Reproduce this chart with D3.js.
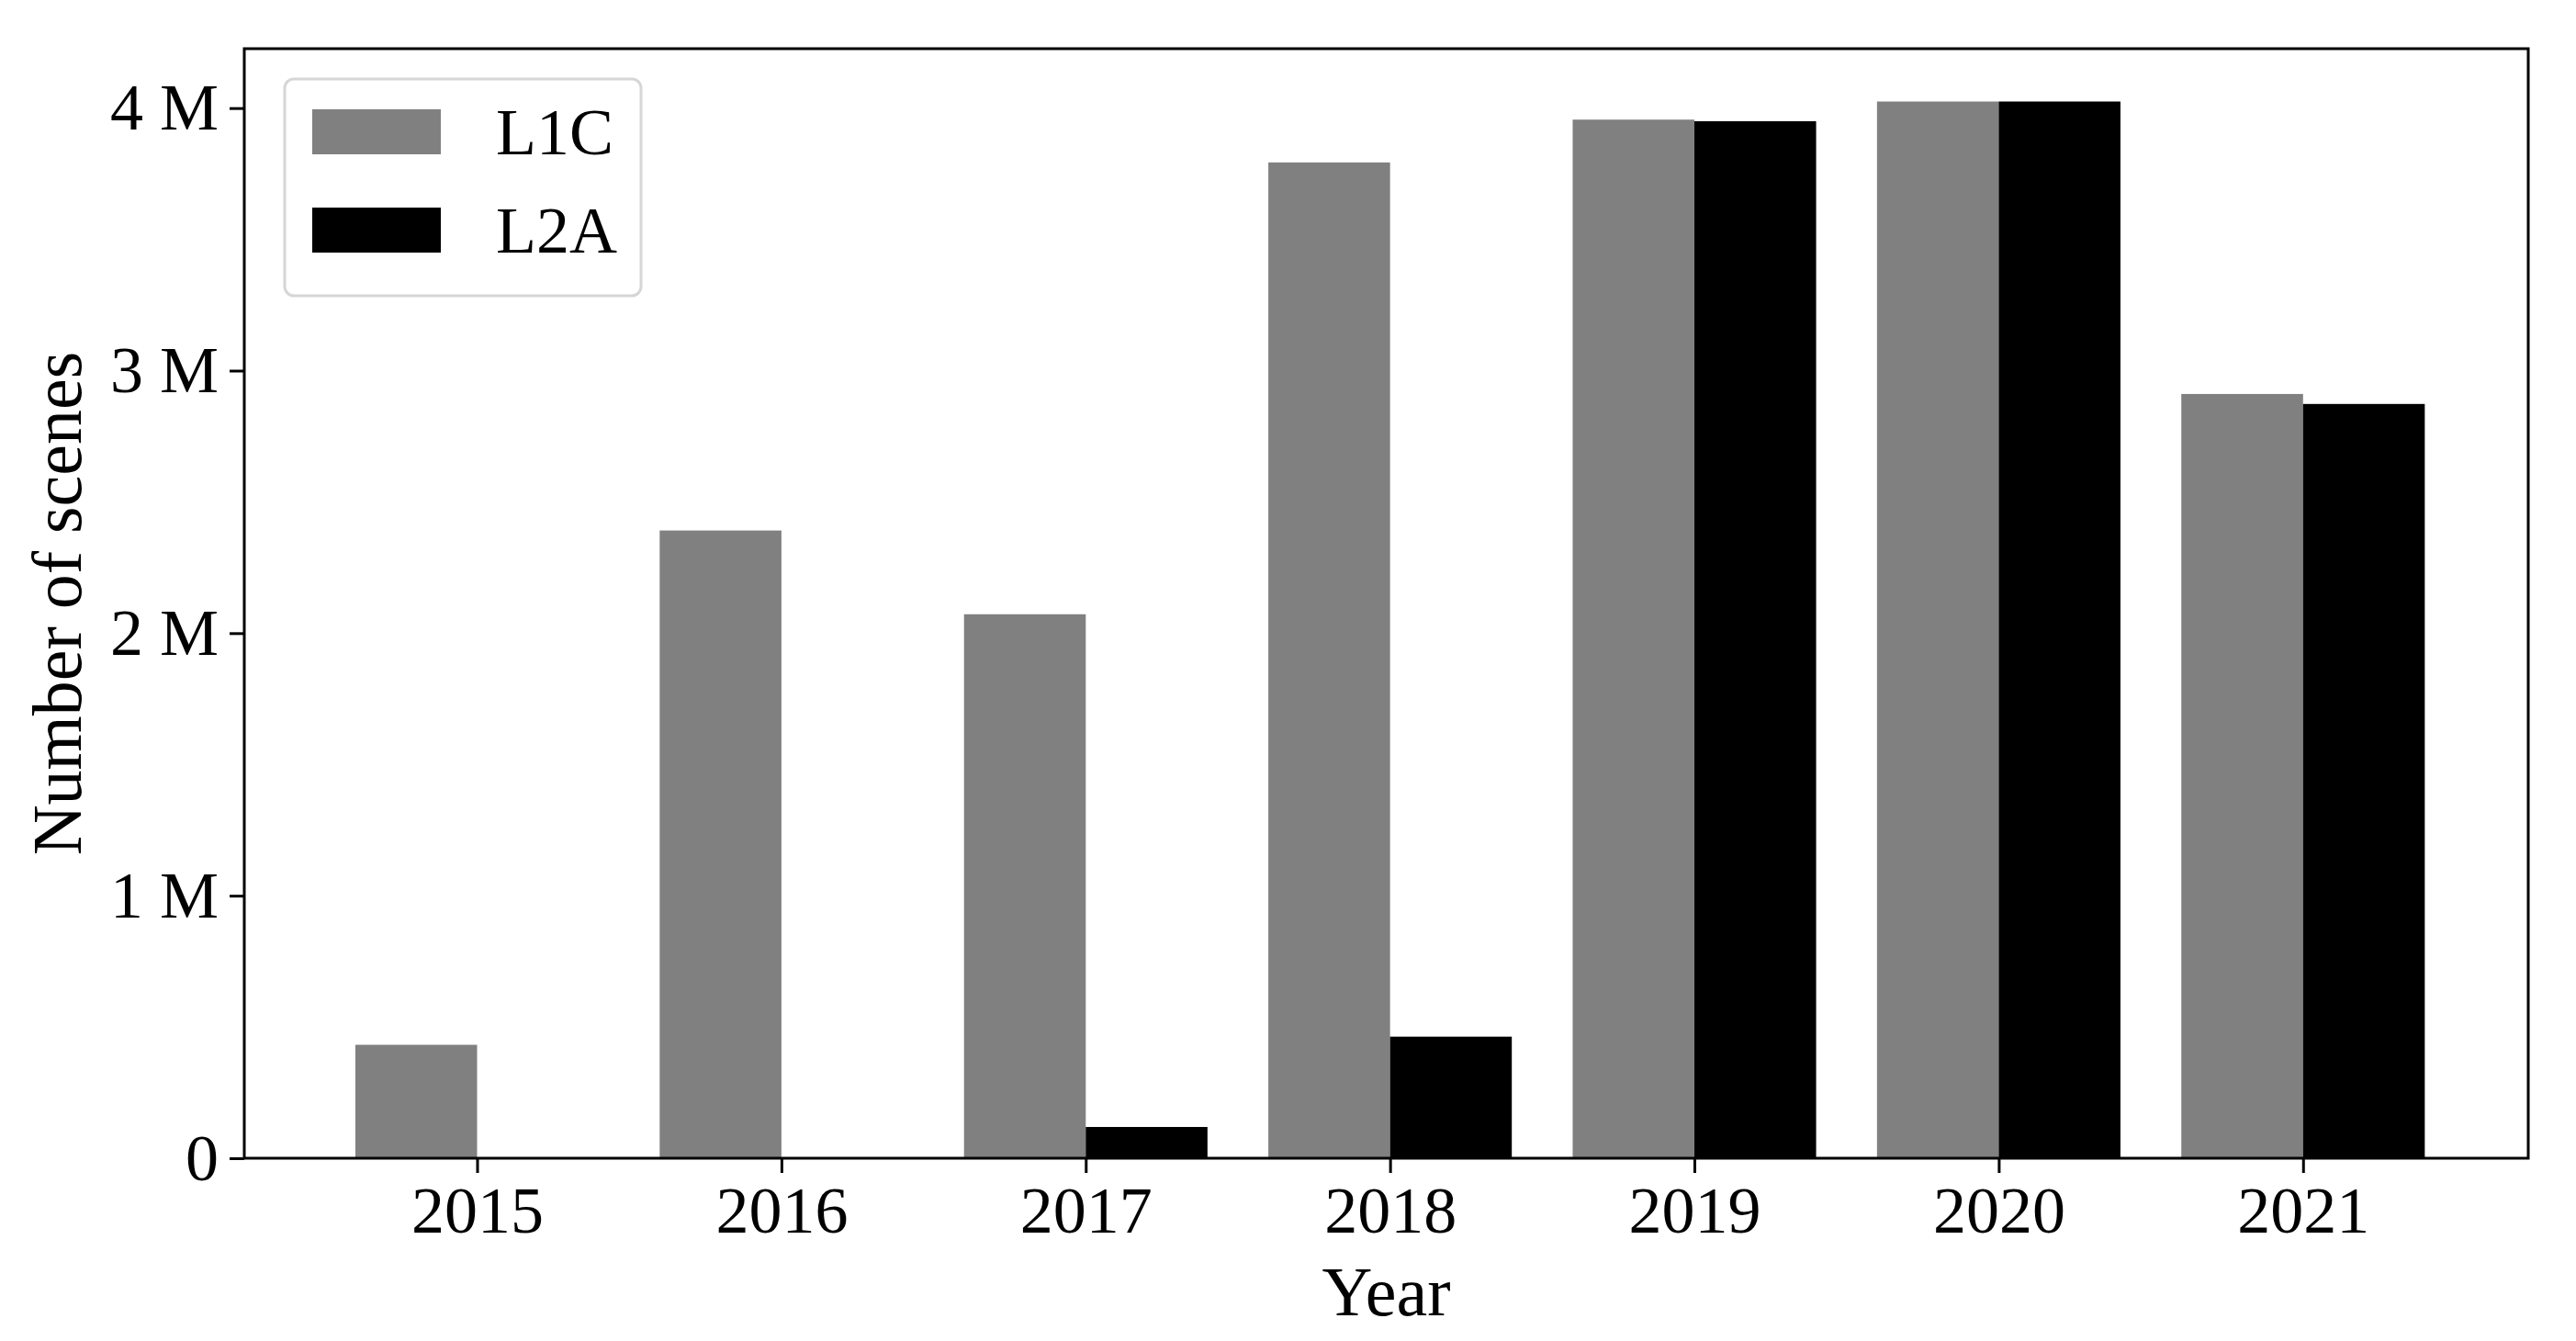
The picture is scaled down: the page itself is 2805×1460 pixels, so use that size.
<!DOCTYPE html>
<html>
<head>
<meta charset="utf-8">
<script src="https://cdn.jsdelivr.net/npm/d3@7"></script>
<style>
  html, body { margin: 0; padding: 0; background: #fff; }
  svg { display: block; }
</style>
</head>
<body>
<svg id="chart" width="2805" height="1460"></svg>
<script>
const years = ["2015", "2016", "2017", "2018", "2019", "2020", "2021"];
const l1c = [432000, 2391000, 2072000, 3793000, 3956000, 4025000, 2911000];
const l2a = [0, 0, 119000, 463000, 3950000, 4025000, 2873000];
const seriesNames = ["L1C", "L2A"];
const seriesColors = ["#808080", "#000000"];
const yTicks = [0, 1000000, 2000000, 3000000, 4000000];
const yTickLabels = ["0", "1 M", "2 M", "3 M", "4 M"];

(function () {
const svg = d3.select("#chart");
const font = "'Liberation Serif', 'DejaVu Serif', serif";
const pL = 266, pR = 2753, pT = 53, pB = 1261;
const barW = 0.4;

const maxVal = d3.max([...l1c, ...l2a]);
const x = d3.scaleLinear().domain([-0.765, years.length - 1 + 0.74]).range([pL, pR]);
const y = d3.scaleLinear().domain([0, maxVal * 1.05]).range([pB, pT]);

const series = [l1c, l2a];
series.forEach((vals, si) => {
  svg.append("g").selectAll("rect").data(vals).join("rect")
    .attr("x", (d, i) => x(i + (si === 0 ? -barW : 0)))
    .attr("width", x(barW) - x(0))
    .attr("y", d => y(d))
    .attr("height", d => y(0) - y(d))
    .attr("fill", seriesColors[si]);
});

// axes
const xAxis = d3.axisBottom(x).tickValues(d3.range(years.length)).tickFormat(i => years[i])
  .tickSize(16).tickPadding(14);
const gx = svg.append("g").attr("transform", `translate(0,${pB})`).call(xAxis);
gx.select(".domain").remove();
gx.selectAll(".tick line").attr("stroke", "#000").attr("stroke-width", 3);
gx.selectAll(".tick text").attr("font-family", font).attr("font-size", 72).attr("fill", "#000");

const yAxis = d3.axisLeft(y).tickValues(yTicks).tickFormat((d, i) => yTickLabels[i])
  .tickSize(16).tickPadding(12);
const gy = svg.append("g").attr("transform", `translate(${pL},0)`).call(yAxis);
gy.select(".domain").remove();
gy.selectAll(".tick line").attr("stroke", "#000").attr("stroke-width", 3);
gy.selectAll(".tick text").attr("font-family", font).attr("font-size", 72).attr("fill", "#000");

// frame
svg.append("rect").attr("x", pL).attr("y", pT).attr("width", pR - pL).attr("height", pB - pT)
  .attr("fill", "none").attr("stroke", "#000").attr("stroke-width", 3);

// axis labels
svg.append("text").attr("x", (pL + pR) / 2).attr("y", 1432)
  .attr("text-anchor", "middle").attr("font-family", font).attr("font-size", 76).text("Year");
svg.append("text").attr("transform", `translate(88,${(pT + pB) / 2}) rotate(-90)`)
  .attr("text-anchor", "middle").attr("font-family", font).attr("font-size", 76).text("Number of scenes");

// legend
const lg = svg.append("g");
lg.append("rect").attr("x", 310).attr("y", 86).attr("width", 388).attr("height", 236).attr("rx", 10)
  .attr("fill", "#fff").attr("fill-opacity", 0.8).attr("stroke", "#d6d6d6").attr("stroke-width", 3);
seriesNames.forEach((name, i) => {
  const cy = 143 + i * 107;
  lg.append("rect").attr("x", 340).attr("y", cy - 24).attr("width", 140).attr("height", 49).attr("fill", seriesColors[i]);
  lg.append("text").attr("x", 540).attr("y", cy).attr("dy", "0.35em")
    .attr("font-family", font).attr("font-size", 72).text(name);
});
})();
</script>
</body>
</html>
